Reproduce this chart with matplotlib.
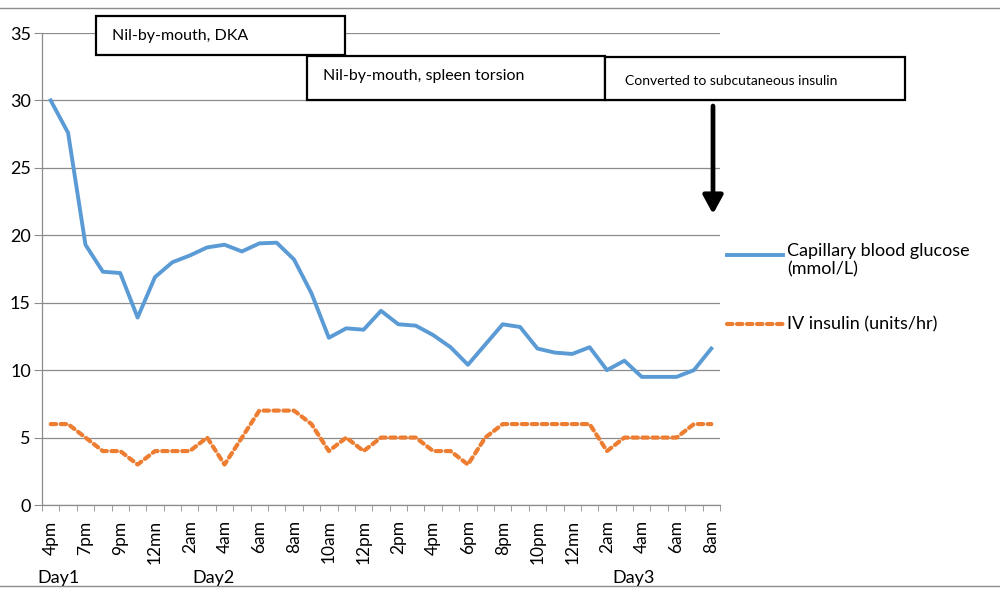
import matplotlib
matplotlib.use("Agg")
import matplotlib.pyplot as plt
import numpy as np
from matplotlib.lines import Line2D
from matplotlib.patches import Rectangle

plt.rcParams["font.family"] = ["Lato", "DejaVu Sans"]

# readings, one per observation (39 points, labels on every second one)
glucose = [30.0, 27.6, 19.3, 17.3, 17.2, 13.9, 16.9, 18.0, 18.5, 19.1,
           19.3, 18.8, 19.4, 19.45, 18.2, 15.7, 12.4, 13.1, 13.0, 14.4,
           13.4, 13.3, 12.6, 11.7, 10.4, 11.9, 13.4, 13.2, 11.6, 11.3,
           11.2, 11.7, 10.0, 10.7, 9.5, 9.5, 9.5, 10.0, 11.6]
insulin = [6, 6, 5, 4, 4, 3, 4, 4, 4, 5,
           3, 5, 7, 7, 7, 6, 4, 5, 4, 5,
           5, 5, 4, 4, 3, 5, 6, 6, 6, 6,
           6, 6, 4, 5, 5, 5, 5, 6, 6]
tick_labels = ["4pm", "7pm", "9pm", "12mn", "2am", "4am", "6am", "8am", "10am",
               "12pm", "2pm", "4pm", "6pm", "8pm", "10pm", "12mn", "2am", "4am",
               "6am", "8am"]
day_labels = ["Day1", "Day2", "Day3"]
notes = ["Nil-by-mouth, DKA", "Nil-by-mouth, spleen torsion",
         "Converted to subcutaneous insulin"]
series_names = ["Capillary blood glucose\n(mmol/L)", "IV insulin (units/hr)"]

BLUE = "#5B9BD5"
ORANGE = "#ED7D31"
GRID = "#8C8C8C"
DASH = (0, (1.3, 1.1))

W, H = 1000, 609
fig = plt.figure(figsize=(10, 6.09), dpi=100)
ax = fig.add_axes([42 / W, 1 - 505 / H, (720 - 42) / W, (505 - 33) / H])

x = np.arange(len(glucose))
ax.plot(x, glucose, color=BLUE, lw=2.8, solid_joinstyle="round", zorder=3)
ax.plot(x, insulin, color=ORANGE, lw=3.0, linestyle=DASH,
        dash_capstyle="round", zorder=3)

ax.set_xlim(-0.5, len(glucose) - 0.5)
ax.set_ylim(0, 35)
ax.set_yticks(range(0, 36, 5))
ax.yaxis.grid(True, color=GRID, lw=0.9)
ax.set_axisbelow(True)

ax.set_xticks(x[::2])
ax.set_xticklabels(tick_labels, rotation=90, fontsize=12.5)
ax.set_xticks(np.arange(-0.5, len(glucose)), minor=True)
ax.tick_params(axis="x", which="major", length=0, pad=11)
ax.tick_params(axis="x", which="minor", length=4, color=GRID, direction="out")
ax.tick_params(axis="y", length=6, color=GRID, labelsize=13, pad=2)

for s in ["top", "right"]:
    ax.spines[s].set_visible(False)
for s in ["left", "bottom"]:
    ax.spines[s].set_color(GRID)
    ax.spines[s].set_linewidth(0.9)

# day labels under the time axis
for lab, px in zip(day_labels, [37, 192, 612]):
    fig.text(px / W, 1 - 578 / H, lab, fontsize=13, va="center", ha="left")

# outer chart frame lines (top and bottom only)
for py in [8, 586]:
    fig.add_artist(Line2D([0, 1], [1 - py / H, 1 - py / H], color=GRID, lw=1.0))

# note boxes
boxes = [(96, 16, 345, 55, 112, 36, 11.5),
         (307, 56, 605, 100, 323, 76, 11.5),
         (605, 57, 905, 100, 625, 81, 10)]
for note, (x0, y0, x1, y1, tx, ty, fs) in zip(notes, boxes):
    fig.add_artist(Rectangle((x0 / W, 1 - y1 / H), (x1 - x0) / W, (y1 - y0) / H,
                             transform=fig.transFigure, facecolor="white",
                             edgecolor="black", lw=1.6, zorder=5))
    fig.text(tx / W, 1 - ty / H, note, fontsize=fs, va="center", ha="left", zorder=6)

# arrow to the subcutaneous switch
ax.annotate("", xy=(713 / W, 1 - 214 / H), xytext=(713 / W, 1 - 106 / H),
            xycoords="figure fraction", textcoords="figure fraction",
            arrowprops=dict(arrowstyle="-|>,head_length=1.1,head_width=0.6",
                            color="black", lw=3.4, shrinkA=0, shrinkB=0))

# legend drawn by hand
fig.add_artist(Line2D([727 / W, 783 / W], [1 - 255 / H] * 2, color=BLUE, lw=2.8))
fig.text(787 / W, 1 - 243 / H, series_names[0], fontsize=13, va="top",
         ha="left", linespacing=1.2)
fig.add_artist(Line2D([727 / W, 783 / W], [1 - 324 / H] * 2, color=ORANGE, lw=3.0,
                      linestyle=DASH, dash_capstyle="round"))
fig.text(787 / W, 1 - 324 / H, series_names[1], fontsize=13, va="center", ha="left")

fig.savefig("out.png", dpi=100)
